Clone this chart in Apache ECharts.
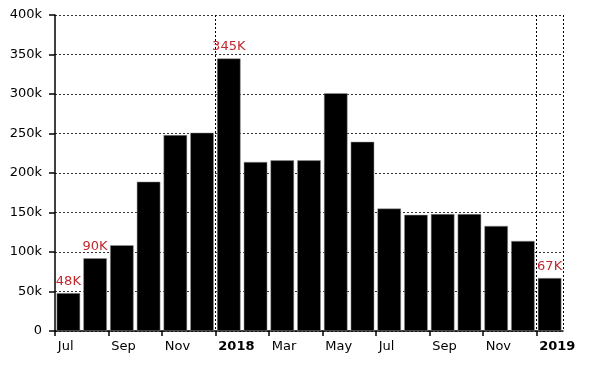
<!DOCTYPE html>
<html>
<head>
<meta charset="utf-8">
<script src="https://cdn.jsdelivr.net/npm/echarts@6/dist/echarts.min.js"></script>
<style>
html,body{margin:0;padding:0;background:#fff;}
#c{width:600px;height:367px;}
</style>
</head>
<body>
<div id="c"></div>
<script>
const categories = ['Jul','Aug','Sep','Oct','Nov','Dec','2018','Feb','Mar','Apr','May','Jun','Jul','Aug','Sep','Oct','Nov','Dec','2019'];
const values = [48, 92, 108.5, 189, 248, 251, 345, 214, 216, 216, 301, 239.5, 155, 147, 148, 148, 133, 114, 67];
const barLabels = ['48K','90K','','','','','345K','','','','','','','','','','','','67K'];
const yearCategories = ['2018','2019'];
const tickIndices = [0, 2, 4, 6, 8, 10, 12, 14, 16, 18];

const FONT = 'DejaVu Sans';
const chart = echarts.init(document.getElementById('c'));
chart.setOption({
  animation: false,
  backgroundColor: '#fff',
  grid: {left: 55, right: 37, top: 15, bottom: 36, containLabel: false},
  xAxis: [{
    type: 'category',
    data: categories,
    boundaryGap: true,
    axisLine: {show: true, lineStyle: {color: '#000', width: 1.5}},
    axisTick: {show: false},
    axisLabel: {
      interval: 1,
      margin: 9,
      color: '#000',
      fontFamily: FONT,
      fontSize: 13,
      formatter: v => yearCategories.includes(v) ? '{b|' + v + '}' : '{a|' + v + '}',
      rich: {
        a: {width: 24, align: 'left', padding: [0, 0, 0, 3], fontFamily: FONT, fontSize: 13, color: '#000'},
        b: {width: 24, align: 'left', padding: [0, 0, 0, 3], fontFamily: FONT, fontSize: 13, fontWeight: 'bold', color: '#000'}
      }
    },
    splitLine: {
      show: true,
      interval: (i, v) => yearCategories.includes(v),
      lineStyle: {color: '#000', type: [2, 2], width: 1}
    }
  }, {
    type: 'value',
    position: 'bottom',
    min: 0, max: categories.length,
    axisLine: {show: false},
    axisTick: {show: true, customValues: tickIndices, length: 5, lineStyle: {color: '#000', width: 1.5}},
    axisLabel: {show: false},
    splitLine: {show: false}
  }],
  yAxis: {
    type: 'value',
    min: 0, max: 400, interval: 50,
    axisLine: {show: true, lineStyle: {color: '#000', width: 1.5}},
    axisTick: {show: true, length: 6, lineStyle: {color: '#000', width: 1.5}},
    axisLabel: {
      margin: 13, color: '#000', fontFamily: FONT, fontSize: 13,
      formatter: v => v === 0 ? '0' : v + 'k'
    },
    splitLine: {show: true, lineStyle: {color: '#333', type: [2, 2], width: 1}}
  },
  series: [{
    type: 'bar',
    xAxisIndex: 0,
    data: values,
    barCategoryGap: '12%',
    itemStyle: {color: '#000', borderColor: '#999', borderWidth: 0.5},
    label: {
      show: true,
      position: 'top',
      distance: 5,
      color: '#c0282d',
      fontFamily: FONT,
      fontSize: 13,
      formatter: p => barLabels[p.dataIndex]
    }
  }]
});
</script>
</body>
</html>
